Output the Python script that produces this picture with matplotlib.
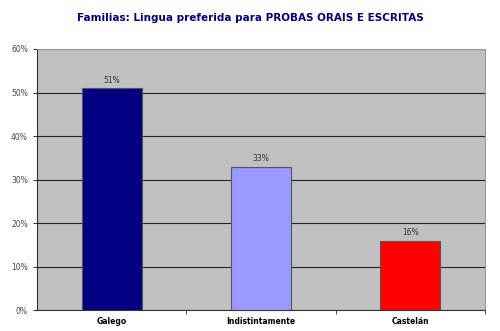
import matplotlib
matplotlib.use("Agg")
import matplotlib.pyplot as plt
from matplotlib.ticker import FixedLocator, PercentFormatter

# datos
categorias = ["Galego", "Indistintamente", "Castelán"]
valores = [51, 33, 16]
cores = ["#000080", "#9999FF", "#FF0000"]
etiquetas_y = [0, 10, 20, 30, 40, 50, 60]

fig = plt.figure(figsize=(5, 3.31), dpi=100)
ax = fig.add_axes([0.074, 0.063, 0.896, 0.789])
ax.set_facecolor("#C0C0C0")

x = range(len(categorias))
ax.bar(x, valores, width=0.4, color=cores, edgecolor="#555555", linewidth=0.8, zorder=3)
for xi, v in zip(x, valores):
    ax.text(xi, v + 0.8, f"{v}%", ha="center", va="bottom", fontsize=5.5, color="#333333")

ax.set_xlim(-0.5, 2.5)
ax.set_ylim(0, 60)
ax.set_yticks(etiquetas_y)
ax.yaxis.set_major_formatter(PercentFormatter(decimals=0))
ax.grid(axis="y", color="#222222", linewidth=0.8, zorder=1)

ax.set_xticks(list(x))
ax.set_xticklabels(categorias, fontsize=5.5, fontweight="bold")
ax.tick_params(axis="x", length=0, pad=5)
ax.xaxis.set_minor_locator(FixedLocator([0.5, 1.5, 2.5]))
ax.tick_params(axis="x", which="minor", length=3, color="#333333")
ax.tick_params(axis="y", labelsize=5.5, labelcolor="#444444", length=3, color="#333333")

for s in ["top", "right"]:
    ax.spines[s].set_color("#999999")
for s in ["left", "bottom"]:
    ax.spines[s].set_color("#333333")

fig.text(0.5, 0.945, "Familias: Lingua preferida para PROBAS ORAIS E ESCRITAS",
         ha="center", va="center", fontsize=7.5, fontweight="bold", color="#000080")

fig.savefig("out.png", dpi=100)
